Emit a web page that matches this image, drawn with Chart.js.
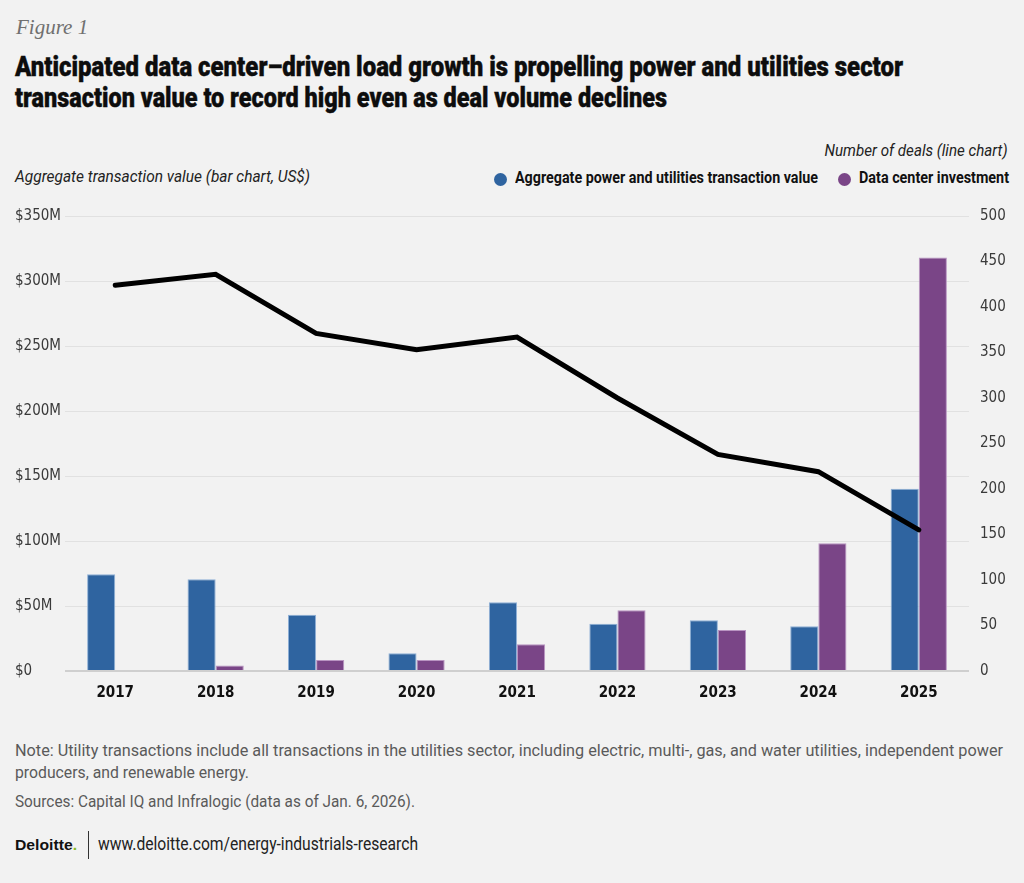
<!DOCTYPE html>
<html>
<head>
<meta charset="utf-8">
<script src="https://cdn.jsdelivr.net/npm/chart.js@4.4.1/dist/chart.umd.min.js"></script>
<style>
  html, body { margin:0; padding:0; background:#f2f2f2; }
  body { width:1024px; height:883px; position:relative; overflow:hidden; font-family:"DejaVu Sans Condensed","Roboto",sans-serif; color:#111; }
  .abs { position:absolute; white-space:nowrap; }
  .fit { transform-origin:0 50%; display:inline-block; }
  .fitr { transform-origin:100% 50%; display:inline-block; }
  #fig { left:16px; top:15px; font-family:"Liberation Serif","DejaVu Serif",serif; font-style:italic; font-size:21px; color:#707070; }
  .tl { left:15px; font-family:"Roboto",sans-serif; font-weight:900; font-size:27px; color:#0d0d0d; -webkit-text-stroke:0.4px #0d0d0d; }
  .it { font-family:"Roboto",sans-serif; font-style:italic; font-weight:400; font-size:16px; color:#222; }
  .legt { font-family:"Roboto",sans-serif; font-weight:700; font-size:16px; color:#111; }
  .dot { position:absolute; width:13px; height:13px; border-radius:50%; }
  .ft { font-family:"Roboto",sans-serif; font-weight:400; font-size:16px; color:#5a5a5a; }
  #logo { left:15px; top:836px; font-family:"Liberation Sans","Arial",sans-serif; font-weight:bold; font-size:15px; color:#111; }
  #logo span { color:#86bc25; }
  #sep { left:88px; top:831px; width:1px; height:28px; background:#333; }
  #wrap { position:absolute; left:0; top:196px; width:1024px; height:514px; }
</style>
</head>
<body>
<div class="abs" id="fig">Figure 1</div>
<div class="abs tl fit" style="top:51px;" data-w="888">Anticipated data center–driven load growth is propelling power and utilities sector</div>
<div class="abs tl fit" style="top:82px;" data-w="652">transaction value to record high even as deal volume declines</div>
<div class="abs it fit" style="left:15px; top:167px;" data-w="295">Aggregate transaction value (bar chart, US$)</div>
<div class="abs it fitr" style="right:16px; top:141px;" data-w="183">Number of deals (line chart)</div>
<span class="dot" style="left:494px; top:173px; background:#2f64a0"></span>
<div class="abs legt fit" style="left:515px; top:168px;" data-w="303">Aggregate power and utilities transaction value</div>
<span class="dot" style="left:838px; top:173px; background:#7a4587"></span>
<div class="abs legt fit" style="left:859px; top:168px;" data-w="150">Data center investment</div>
<div id="wrap"><canvas id="c"></canvas></div>
<div class="abs ft fit" style="left:15px; top:741px;" data-w="988">Note: Utility transactions include all transactions in the utilities sector, including electric, multi-, gas, and water utilities, independent power</div>
<div class="abs ft fit" style="left:15px; top:763px;" data-w="234">producers, and renewable energy.</div>
<div class="abs ft fit" style="left:15px; top:792px;" data-w="400">Sources: Capital IQ and Infralogic (data as of Jan. 6, 2026).</div>
<div class="abs fit" id="logo" data-w="62">Deloitte<span>.</span></div>
<div class="abs" id="sep"></div>
<div class="abs ft fit" style="left:98px; top:833px; font-size:18px; color:#222;" data-w="320">www.deloitte.com/energy-industrials-research</div>
<script>
const years = ["2017","2018","2019","2020","2021","2022","2023","2024","2025"];
const aggregateValue = [74.4, 70.5, 43.3, 13.6, 52.8, 36.4, 39, 34.4, 140.2];
const dataCenterValue = [0, 4.2, 8.5, 8.5, 20.5, 46.7, 31.5, 98.3, 318];
const dealCount = [424, 436, 371, 353, 367, 300, 238, 219, 155];
const leftTicks = [0, 50, 100, 150, 200, 250, 300, 350];
const rightTicks = [0, 50, 100, 150, 200, 250, 300, 350, 400, 450, 500];

document.querySelectorAll('[data-w]').forEach(el => {
  const w = el.getBoundingClientRect().width;
  const t = parseFloat(el.dataset.w);
  if (w > 0) el.style.transform = 'scaleX(' + (t / w) + ')';
});

const tickFamily = '"DejaVu Sans Condensed","Roboto",sans-serif';

new Chart(document.getElementById('c'), {
  data: {
    labels: years,
    datasets: [
      { type:'line', label:'Number of deals', data: dealCount, yAxisID:'yR', borderColor:'#000', borderWidth:5, pointRadius:0, tension:0, order:0, borderJoinStyle:'miter', borderCapStyle:'round' },
      { type:'bar', label:'Aggregate power and utilities transaction value', data: aggregateValue, yAxisID:'yL', backgroundColor:'#2f64a0', borderColor:'#8fb0d6', borderWidth:{top:1,left:1,right:1,bottom:0}, order:1, categoryPercentage:0.56, barPercentage:1.0 },
      { type:'bar', label:'Data center investment', data: dataCenterValue, yAxisID:'yL', backgroundColor:'#7a4587', borderColor:'#b994c2', borderWidth:{top:1,left:1,right:1,bottom:0}, order:1, categoryPercentage:0.56, barPercentage:1.0 }
    ]
  },
  options: {
    responsive:true, maintainAspectRatio:false, animation:false,
    layout:{ padding:{ top:12, left:15, right:0, bottom:0 } },
    plugins:{ legend:{ display:false }, tooltip:{ enabled:false } },
    scales:{
      x:{
        grid:{ display:false, drawTicks:false },
        border:{ display:false },
        ticks:{ font:{ family: tickFamily, size:15, weight:'bold' }, color:'#111', padding:13 },
        afterFit(s){ s.height = 39; }
      },
      yL:{
        position:'left', min:0, max:350,
        afterBuildTicks(s){ s.ticks = leftTicks.map(v=>({value:v})); },
        grid:{ color:(ctx)=> ctx.tick && ctx.tick.value===0 ? '#cfcfcf' : '#e1e1e1', lineWidth:(ctx)=> ctx.tick && ctx.tick.value===0 ? 2 : 1, drawTicks:false },
        border:{ display:false },
        ticks:{ font:{ family: tickFamily, size:15 }, color:'#3a3a3a', padding:0, crossAlign:'far', callback:(v)=> v===0 ? '$0' : '$'+v+'M' },
        afterFit(s){ s.width = 50; }
      },
      yR:{
        position:'right', min:0, max:500,
        afterBuildTicks(s){ s.ticks = rightTicks.map(v=>({value:v})); },
        grid:{ display:false, drawTicks:false },
        border:{ display:false },
        ticks:{ font:{ family: tickFamily, size:15 }, color:'#3a3a3a', padding:11 },
        afterFit(s){ s.width = 55; }
      }
    }
  }
});
</script>
</body>
</html>
